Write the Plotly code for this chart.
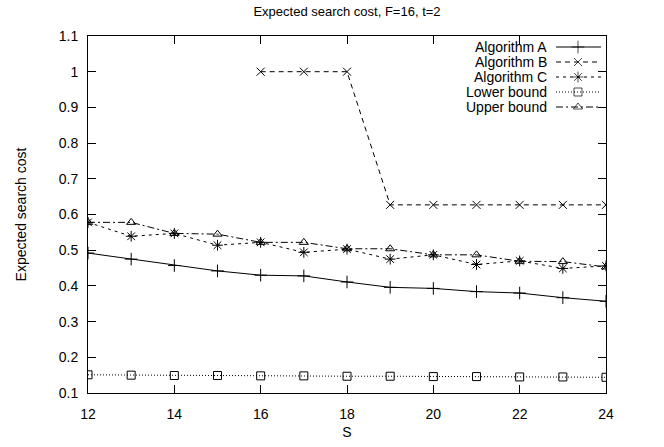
import plotly.graph_objects as go

# ---- data ----
S = [12, 13, 14, 15, 16, 17, 18, 19, 20, 21, 22, 23, 24]
alg_a = [0.492, 0.475, 0.457, 0.442, 0.430, 0.428, 0.411, 0.396, 0.393, 0.384, 0.380, 0.367, 0.357]
alg_b = [None, None, None, None, 1.0, 1.0, 1.0, 0.627, 0.627, 0.627, 0.627, 0.627, 0.627]
alg_c = [0.578, 0.539, 0.547, 0.514, 0.522, 0.494, 0.503, 0.475, 0.487, 0.460, 0.470, 0.449, 0.456]
lower = [0.151, 0.150, 0.149, 0.149, 0.148, 0.148, 0.147, 0.147, 0.146, 0.146, 0.145, 0.145, 0.144]
upper = [0.578, 0.578, 0.547, 0.545, 0.522, 0.522, 0.504, 0.504, 0.487, 0.487, 0.469, 0.468, 0.453]

names = ["Algorithm A", "Algorithm B", "Algorithm C", "Lower bound", "Upper bound"]
series = [alg_a, alg_b, alg_c, lower, upper]
x_ticks = [12, 14, 16, 18, 20, 22, 24]
y_ticks = [0.1, 0.2, 0.3, 0.4, 0.5, 0.6, 0.7, 0.8, 0.9, 1.0, 1.1]
y_tick_text = ["0.1", "0.2", "0.3", "0.4", "0.5", "0.6", "0.7", "0.8", "0.9", "1", "1.1"]

# ---- styles ----
styles = [
    dict(dash="solid", symbol="cross-thin-open", size=9),
    dict(dash="5px,4px", symbol="x-thin-open", size=8),
    dict(dash="3px,4px", symbol="asterisk-open", size=9),
    dict(dash="1px,2px", symbol="square-open", size=8),
    dict(dash="7px,3px,2px,3px", symbol="triangle-up-open", size=8),
]

W, H = 664, 447
L, R, T, B = 88, 606, 36, 393
FONT = "Liberation Sans, Arial, Helvetica, sans-serif"

fig = go.Figure()
for name, ys, st in zip(names, series, styles):
    fig.add_trace(go.Scatter(
        x=S, y=ys, mode="lines+markers", name=name, showlegend=False,
        line=dict(color="black", width=1, dash=st["dash"]),
        marker=dict(symbol=st["symbol"], size=st["size"], color="black",
                    line=dict(color="black", width=1)),
        connectgaps=False,
    ))

# ---- gnuplot-style key (text right, sample on the right) ----
def px_x(px):
    return (px - L) / (R - L)

def px_y(py):
    return (B - py) / (B - T)

key_text_x = 549
key_line = (556, 601)
key_mark = 578
key_row0, key_step = 47, 15
annotations = []
for i, (name, st) in enumerate(zip(names, styles)):
    ry = px_y(key_row0 + i * key_step)
    annotations.append(dict(
        x=px_x(key_text_x), y=ry, xref="paper", yref="paper",
        text=name, showarrow=False, xanchor="right", yanchor="middle",
        font=dict(family=FONT, size=14, color="black"),
    ))
    fig.add_trace(go.Scatter(
        x=[px_x(key_line[0]), px_x(key_mark), px_x(key_line[1])],
        y=[ry, ry, ry], xaxis="x2", yaxis="y2",
        mode="lines+markers", showlegend=False, hoverinfo="skip",
        line=dict(color="black", width=1, dash=st["dash"]),
        marker=dict(symbol=st["symbol"], size=[0, st["size"], 0], color="black",
                    line=dict(color="black", width=1)),
    ))

axis_common = dict(
    showline=True, linecolor="black", linewidth=1, mirror="ticks",
    ticks="inside", ticklen=8, tickwidth=1, tickcolor="black",
    showgrid=False, zeroline=False,
    tickfont=dict(family=FONT, size=14, color="black"),
)

fig.update_layout(
    width=W, height=H,
    margin=dict(l=L, r=W - R, t=T, b=H - B, autoexpand=False),
    paper_bgcolor="white", plot_bgcolor="white",
    font=dict(family=FONT, size=14, color="black"),
    title=dict(text="Expected search cost, F=16, t=2", x=(L + R) / 2 / W, xanchor="center",
               y=1 - 11 / H, yanchor="middle",
               font=dict(family=FONT, size=13, color="black")),
    xaxis=dict(range=[12, 24], tickvals=x_ticks, ticklabelstandoff=8,
               title=dict(text="S", standoff=6, font=dict(family=FONT, size=14)),
               automargin=False, **axis_common),
    yaxis=dict(range=[0.1, 1.1], tickvals=y_ticks, ticktext=y_tick_text, ticklabelstandoff=6,
               title=dict(text="Expected search cost", standoff=28, font=dict(family=FONT, size=14)),
               automargin=False, **axis_common),
    xaxis2=dict(overlaying="x", range=[0, 1], visible=False, fixedrange=True),
    yaxis2=dict(overlaying="y", range=[0, 1], visible=False, fixedrange=True),
    annotations=annotations,
    showlegend=False,
)

fig.write_html("out.html")
